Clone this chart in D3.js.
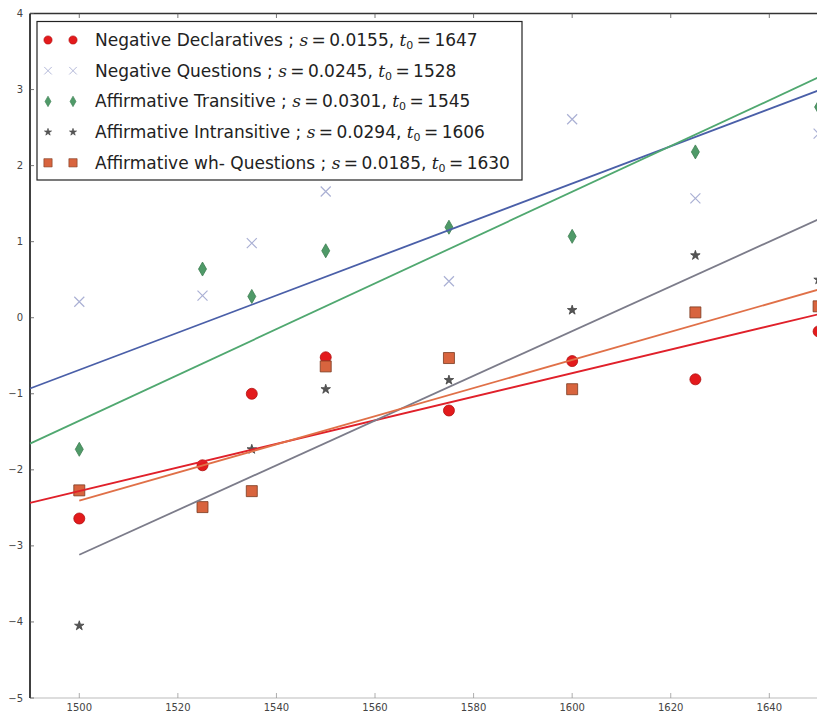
<!DOCTYPE html>
<html><head><meta charset="utf-8">
<script src="https://cdn.jsdelivr.net/npm/d3@7"></script>
<style>body{margin:0;background:#fff;} svg{display:block}</style>
</head><body><svg id="c" width="817" height="713"></svg>
<script>
// ---------- data ----------
const years = [1500, 1525, 1535, 1550, 1575, 1600, 1625, 1650];
const negDecl    = [-2.64, -1.94, -1.00, -0.52, -1.22, -0.57, -0.81, -0.18];
const negQuest   = [ 0.21,  0.29,  0.98,  1.66,  0.48,  2.61,  1.57,  2.42];
const affTrans   = [-1.73,  0.64,  0.28,  0.88,  1.19,  1.07,  2.18,  2.77];
const affIntrans = [-4.05,  null, -1.73, -0.94, -0.82,  0.10,  0.82,  0.50];
const affWh      = [-2.27, -2.49, -2.28, -0.64, -0.53, -0.94,  0.07,  0.15];
const seriesNames = ["Negative Declaratives", "Negative Questions", "Affirmative Transitive",
                     "Affirmative Intransitive", "Affirmative wh- Questions"];
const slopes    = [0.0155, 0.0245, 0.0301, 0.0294, 0.0185];
const midpoints = [1647, 1528, 1545, 1606, 1630];
const fitStart  = [1490, 1490, 1490, 1500, 1500];
const fitEnd    = 1650;
const xTicks = [1500, 1520, 1540, 1560, 1580, 1600, 1620, 1640];
const yTicks = [-5, -4, -3, -2, -1, 0, 1, 2, 3, 4];

// ---------- styles ----------
const seriesValues = [negDecl, negQuest, affTrans, affIntrans, affWh];
const markerKind = ["circle", "x", "diamond", "star", "square"];
const markerFill = ["#e31a1c", "none", "#4f9a68", "#555555", "#d8643e"];
const markerStroke = ["#b01010", "#aab0d4", "#3d7d52", "#444444", "#7a3a20"];
const lineColor = ["#e0202a", "#4a5fa8", "#50a870", "#7c7c8a", "#e07048"];

const svg = d3.select("#c");
const x = d3.scaleLinear().domain([1490, 1650]).range([30, 818.6]);
const y = d3.scaleLinear().domain([-5, 4]).range([698, 13.5]);

function markerPath(kind) {
  switch (kind) {
    case "circle": return d3.symbol(d3.symbolCircle, 95)();
    case "x": return "M-5,-5L5,5M-5,5L5,-5";
    case "diamond": return "M0,-7L4,0L0,7L-4,0Z";
    case "star": return d3.symbol(d3.symbolStar, 28)();
    case "square": return "M-5.5,-5.5H5.5V5.5H-5.5Z";
  }
}
function drawMarker(g, kind, i, cx, cy, sc) {
  g.append("path").attr("d", markerPath(kind))
    .attr("transform", `translate(${cx},${cy}) scale(${sc || 1})`)
    .attr("fill", markerFill[i])
    .attr("stroke", markerStroke[i])
    .attr("stroke-width", kind === "x" ? 1.2 : 0.8);
}

// ---------- axes ----------
const axG = svg.append("g");
axG.append("line").attr("x1", 30).attr("x2", 817).attr("y1", 13.5).attr("y2", 13.5)
  .attr("stroke", "#333").attr("stroke-width", 1.3);
axG.append("line").attr("x1", 30).attr("x2", 817).attr("y1", 698).attr("y2", 698)
  .attr("stroke", "#bbb").attr("stroke-width", 1);
axG.append("line").attr("x1", 30).attr("x2", 30).attr("y1", 13.5).attr("y2", 698)
  .attr("stroke", "#000").attr("stroke-width", 1.5);

xTicks.forEach(t => {
  axG.append("line").attr("x1", x(t)).attr("x2", x(t)).attr("y1", 13.5).attr("y2", 18)
    .attr("stroke", "#555").attr("stroke-width", 0.8);
  axG.append("line").attr("x1", x(t)).attr("x2", x(t)).attr("y1", 698).attr("y2", 693)
    .attr("stroke", "#999").attr("stroke-width", 0.8);
  axG.append("text").attr("x", x(t)).attr("y", 711).attr("text-anchor", "middle")
    .attr("font-family", "DejaVu Sans").attr("font-size", 10).attr("fill", "#444")
    .text(t);
});
yTicks.forEach(t => {
  axG.append("line").attr("x1", 30).attr("x2", 34).attr("y1", y(t)).attr("y2", y(t))
    .attr("stroke", "#555").attr("stroke-width", 0.8);
  axG.append("text").attr("x", 23).attr("y", y(t) + 3.5).attr("text-anchor", "end")
    .attr("font-family", "DejaVu Sans").attr("font-size", 10).attr("fill", "#444")
    .text(t < 0 ? "\u2212" + Math.abs(t) : t);
});

// ---------- data marks ----------
const plotG = svg.append("g");
seriesValues.forEach((vals, i) => {
  years.forEach((yr, j) => {
    if (vals[j] === null) return;
    drawMarker(plotG, markerKind[i], i, x(yr), y(vals[j]));
  });
});
const line = d3.line().x(d => x(d[0])).y(d => y(d[1]));
seriesValues.forEach((vals, i) => {
  const pts = [fitStart[i], fitEnd].map(t => [t, slopes[i] * (t - midpoints[i])]);
  plotG.append("path").attr("d", line(pts)).attr("fill", "none")
    .attr("stroke", lineColor[i]).attr("stroke-width", 1.8);
});

// ---------- legend ----------
const lg = svg.append("g");
lg.append("rect").attr("x", 37).attr("y", 21.5).attr("width", 485).attr("height", 158.5)
  .attr("fill", "#fff").attr("stroke", "#222").attr("stroke-width", 1.2);
seriesNames.forEach((name, i) => {
  const cy = 40 + i * 30.7;
  drawMarker(lg, markerKind[i], i, 48, cy, 0.75);
  drawMarker(lg, markerKind[i], i, 73, cy, 0.75);
  const t = lg.append("text").attr("x", 95).attr("y", cy + 6)
    .attr("font-family", "DejaVu Sans").attr("font-size", 17).attr("fill", "#222");
  t.append("tspan").text(name + " ; ");
  t.append("tspan").attr("font-family", "DejaVu Serif").attr("font-style", "italic").text("s");
  t.append("tspan").text("\u2009=\u2009" + slopes[i] + ", ");
  t.append("tspan").attr("font-family", "DejaVu Serif").attr("font-style", "italic").text("t");
  t.append("tspan").attr("font-size", 11).attr("dy", 3).text("0");
  t.append("tspan").attr("dy", -3).text("\u2009=\u2009" + midpoints[i]);
});
</script>
</body></html>
